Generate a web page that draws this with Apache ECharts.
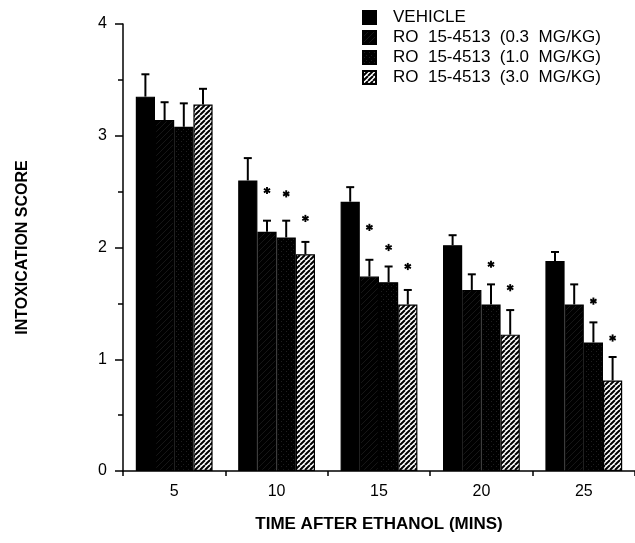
<!DOCTYPE html>
<html>
<head>
<meta charset="utf-8">
<script src="https://cdn.jsdelivr.net/npm/echarts@6/dist/echarts.min.js"></script>
<style>
  html, body { margin: 0; padding: 0; background: #fff; }
  #chart { width: 635px; height: 543px; }
</style>
</head>
<body>
<div id="chart"></div>
<script>
// Time points after ethanol (minutes)
const categories = ['5', '10', '15', '20', '25'];

const seriesNames = [
  'VEHICLE',
  'RO  15-4513  (0.3  MG/KG)',
  'RO  15-4513  (1.0  MG/KG)',
  'RO  15-4513  (3.0  MG/KG)'
];

// Mean intoxication score per group
const vehicleMean = [3.35, 2.60, 2.41, 2.02, 1.88];
const ro03Mean    = [3.14, 2.14, 1.74, 1.62, 1.49];
const ro10Mean    = [3.08, 2.09, 1.69, 1.49, 1.15];
const ro30Mean    = [3.28, 1.94, 1.49, 1.22, 0.81];

// Standard error (upper whisker only)
const vehicleSem = [0.20, 0.20, 0.13, 0.09, 0.08];
const ro03Sem    = [0.16, 0.10, 0.15, 0.14, 0.18];
const ro10Sem    = [0.21, 0.15, 0.14, 0.18, 0.18];
const ro30Sem    = [0.14, 0.11, 0.13, 0.22, 0.21];

// Height (score units) at which a significance asterisk sits; null = not significant
const ro03Star = [null, 2.51, 2.18, null, null];
const ro10Star = [null, 2.48, 2.00, 1.85, 1.52];
const ro30Star = [null, 2.26, 1.83, 1.64, 1.19];

const yTicks = [0, 1, 2, 3, 4];

const means = [vehicleMean, ro03Mean, ro10Mean, ro30Mean];
const sems = [vehicleSem, ro03Sem, ro10Sem, ro30Sem];
const stars = [null, ro03Star, ro10Star, ro30Star];

const FONT = '"Liberation Sans", Arial, Helvetica, sans-serif';
const BAR_GROUP = 0.75; // fraction of band used by the bar group (barCategoryGap 25%)

// --- fill patterns -------------------------------------------------------
function diagonalTile(size, bg, fg, lw) {
  const c = document.createElement('canvas');
  c.width = size; c.height = size;
  const ctx = c.getContext('2d');
  ctx.fillStyle = bg;
  ctx.fillRect(0, 0, size, size);
  ctx.strokeStyle = fg;
  ctx.lineWidth = lw;
  ctx.beginPath();
  for (const k of [-1, 0, 1]) {
    ctx.moveTo(k * size, size);
    ctx.lineTo(k * size + size, 0);
  }
  ctx.stroke();
  return c;
}
function stippleTile() {
  const c = document.createElement('canvas');
  c.width = 5; c.height = 5;
  const ctx = c.getContext('2d');
  ctx.fillStyle = '#000';
  ctx.fillRect(0, 0, 5, 5);
  ctx.fillStyle = '#1e1e1e';
  ctx.fillRect(1, 1, 1, 1);
  ctx.fillRect(3, 4, 1, 1);
  return c;
}

const fills = [
  '#000000',
  { image: diagonalTile(6, '#000', '#1c1c1c', 0.8), repeat: 'repeat' },
  { image: stippleTile(), repeat: 'repeat' },
  { image: diagonalTile(5, '#fff', '#000', 2.0), repeat: 'repeat' }
];

// --- series ----------------------------------------------------------------
const barSeries = seriesNames.map((name, i) => ({
  name: name,
  type: 'bar',
  data: means[i],
  barGap: '0%',
  barCategoryGap: '25%',
  itemStyle: { color: fills[i], borderColor: '#000', borderWidth: 1.2 },
  z: 2
}));

const errData = [];
const starData = [];
means.forEach((m, si) => {
  m.forEach((v, ci) => {
    errData.push([ci, si, v, v + sems[si][ci]]);
    if (stars[si] && stars[si][ci] != null) starData.push([ci, si, stars[si][ci]]);
  });
});

function barCenterX(api, ci, si) {
  const center = api.coord([ci, 0])[0];
  const band = api.size([1, 0])[0];
  const bw = band * BAR_GROUP / 4;
  return center - band * BAR_GROUP / 2 + bw * (si + 0.5);
}

const errorSeries = {
  type: 'custom',
  name: 'sem',
  data: errData,
  encode: { x: 0, y: [2, 3] },
  z: 3,
  silent: true,
  renderItem: function (params, api) {
    const ci = api.value(0), si = api.value(1);
    const x = barCenterX(api, ci, si);
    const y0 = api.coord([ci, api.value(2)])[1];
    const y1 = api.coord([ci, api.value(3)])[1];
    const cap = 4;
    const st = { stroke: '#000', lineWidth: 2 };
    return {
      type: 'group',
      children: [
        { type: 'line', shape: { x1: x, y1: y0, x2: x, y2: y1 }, style: st },
        { type: 'line', shape: { x1: x - cap, y1: y1, x2: x + cap, y2: y1 }, style: st }
      ]
    };
  }
};

const starSeries = {
  type: 'custom',
  name: 'sig',
  data: starData,
  encode: { x: 0, y: 2 },
  z: 4,
  silent: true,
  renderItem: function (params, api) {
    const ci = api.value(0), si = api.value(1);
    const x = barCenterX(api, ci, si);
    const y = api.coord([ci, api.value(2)])[1];
    const r = 3.6;
    const st = { stroke: '#000', lineWidth: 1.9 };
    const kids = [];
    for (let a = 0; a < 3; a++) {
      const ang = Math.PI / 2 + a * Math.PI / 3;
      const dx = Math.cos(ang) * r, dy = Math.sin(ang) * r;
      kids.push({ type: 'line', shape: { x1: x - dx, y1: y - dy, x2: x + dx, y2: y + dy }, style: st });
    }
    return { type: 'group', children: kids };
  }
};

// --- chart -------------------------------------------------------------------
const chart = echarts.init(document.getElementById('chart'), null, { renderer: 'canvas' });

chart.setOption({
  animation: false,
  backgroundColor: '#fff',
  textStyle: { fontFamily: FONT, color: '#000' },
  grid: { left: 123, top: 24, width: 518, bottom: 72, containLabel: false },
  legend: {
    data: seriesNames,
    orient: 'vertical',
    left: 362,
    top: 9,
    padding: 0,
    itemWidth: 13,
    itemHeight: 13,
    itemGap: 3,
    icon: 'rect',
    align: 'left',
    textStyle: { fontFamily: FONT, fontSize: 17, color: '#000', padding: [0, 0, 0, 12] }
  },
  xAxis: {
    type: 'category',
    data: categories,
    name: 'TIME AFTER ETHANOL (MINS)',
    nameLocation: 'middle',
    nameGap: 45,
    nameTextStyle: { fontFamily: FONT, fontSize: 17, fontWeight: 'bold', color: '#000' },
    axisLine: { lineStyle: { color: '#000', width: 1.5 } },
    axisTick: { show: true, length: 5, lineStyle: { color: '#000', width: 1.5 } },
    axisLabel: { fontFamily: FONT, fontSize: 16, color: '#000', margin: 13 },
    splitLine: { show: false }
  },
  yAxis: {
    type: 'value',
    min: yTicks[0],
    max: yTicks[yTicks.length - 1],
    interval: 1,
    name: 'INTOXICATION SCORE',
    nameLocation: 'middle',
    nameRotate: 90,
    nameGap: 92,
    nameTextStyle: { fontFamily: FONT, fontSize: 16, fontWeight: 'bold', color: '#000' },
    axisLine: { show: true, lineStyle: { color: '#000', width: 1.5 } },
    axisTick: { show: true, length: 8, lineStyle: { color: '#000', width: 1.5 } },
    minorTick: { show: true, splitNumber: 2, length: 5, lineStyle: { color: '#000', width: 1.5 } },
    axisLabel: { fontFamily: FONT, fontSize: 16, color: '#000', margin: 16 },
    splitLine: { show: false },
    minorSplitLine: { show: false }
  },
  series: barSeries.concat([errorSeries, starSeries])
});
</script>
</body>
</html>
